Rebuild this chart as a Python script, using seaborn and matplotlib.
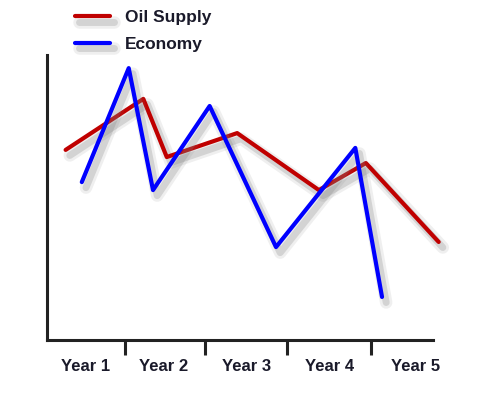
import pandas as pd
import matplotlib
matplotlib.use("Agg")
import matplotlib.pyplot as plt
import matplotlib.patheffects as pe
import seaborn as sns

# Values (x in "year" units, y on a 0-100 scale)
oil_x = [0.23, 1.19, 1.48, 2.35, 3.36, 3.94, 4.84]
oil_y = [66.7, 84.6, 64.2, 72.6, 52.6, 62.1, 34.4]
eco_x = [0.43, 1.01, 1.31, 2.01, 2.83, 3.81, 4.14]
eco_y = [55.4, 95.4, 52.6, 82.1, 32.6, 67.4, 15.1]

year_labels = ["Year 1", "Year 2", "Year 3", "Year 4", "Year 5"]
label_pos = [0.48, 1.44, 2.47, 3.49, 4.56]
tick_pos = [0.96, 1.95, 2.96, 4.0]

df = pd.concat([
    pd.DataFrame({"x": oil_x, "y": oil_y, "series": "Oil Supply"}),
    pd.DataFrame({"x": eco_x, "y": eco_y, "series": "Economy"}),
])

sns.set_style("white")
plt.rcParams["font.family"] = ["Liberation Sans", "DejaVu Sans"]

fig = plt.figure(figsize=(4.82, 3.93), dpi=100)
ax = fig.add_axes([47 / 482, 1 - 340 / 393, (433 - 47) / 482, (340 - 55) / 393])

sns.lineplot(
    data=df, x="x", y="y", hue="series", sort=False, estimator=None,
    palette={"Oil Supply": "#c00000", "Economy": "#0000ff"},
    linewidth=3, ax=ax, legend=False,
)

shadow = [
    pe.SimpleLineShadow(offset=(3, -4), shadow_color="gray", alpha=0.12, linewidth=9),
    pe.SimpleLineShadow(offset=(3, -4), shadow_color="gray", alpha=0.25, linewidth=5),
    pe.Normal(),
]
for line in ax.lines:
    line.set_clip_on(False)
    line.set_path_effects(shadow)

ax.set_xlim(0, 4.77)
ax.set_ylim(0, 100)
ax.set_xlabel("")
ax.set_ylabel("")
ax.set_yticks([])

# spines
for side in ["top", "right"]:
    ax.spines[side].set_visible(False)
for side in ["left", "bottom"]:
    ax.spines[side].set_linewidth(2.2)
    ax.spines[side].set_color("#222222")

# tick marks between years, labels centered in each year
ax.set_xticks(tick_pos)
ax.set_xticklabels([])
ax.tick_params(axis="x", which="major", direction="out", length=11, width=2.2,
               color="#222222", bottom=True)
ax.set_xticks(label_pos, minor=True)
ax.set_xticklabels(year_labels, minor=True, fontsize=12, fontweight="bold", color="#1a1a2a")
ax.tick_params(axis="x", which="minor", length=0, pad=14)

# legend
handles = [
    plt.Line2D([], [], color="#c00000", linewidth=3, path_effects=shadow),
    plt.Line2D([], [], color="#0000ff", linewidth=3, path_effects=shadow),
]
fig.legend(
    handles, ["Oil Supply", "Economy"],
    loc="upper left", bbox_to_anchor=(75 / 482, 1 - 10 / 393),
    frameon=False, borderpad=0, borderaxespad=0,
    handlelength=2.0, handletextpad=0.9, labelspacing=0.65,
    prop={"size": 12.5, "weight": "bold"},
)
for txt in fig.legends[0].get_texts():
    txt.set_color("#1a1a2a")

fig.savefig("out.png", dpi=100)
